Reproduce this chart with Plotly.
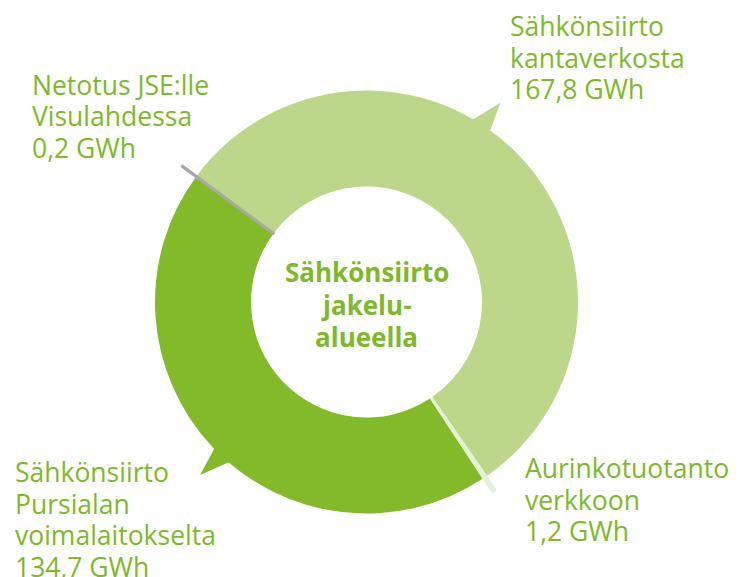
import math
import plotly.graph_objects as go

# ---- data ----
labels = ["Sähkönsiirto kantaverkosta", "Aurinkotuotanto verkkoon",
          "Sähkönsiirto Pursialan voimalaitokselta", "Netotus JSE:lle Visulahdessa"]
values = [167.8, 1.2, 134.7, 0.2]
label_lines = [
    ["Sähkönsiirto", "kantaverkosta", "167,8 GWh"],
    ["Aurinkotuotanto", "verkkoon", "1,2 GWh"],
    ["Sähkönsiirto", "Pursialan", "voimalaitokselta", "134,7 GWh"],
    ["Netotus JSE:lle", "Visulahdessa", "0,2 GWh"],
]
center_lines = ["Sähkönsiirto", "jakelu-", "alueella"]

# ---- styles ----
W, H = 744, 577
colors = ["#BCD68A", "#E6F0D5", "#83BA2A", "#A8A8A8"]
ext_colors = ["rgba(0,0,0,0)", "#E6F0D5", "rgba(0,0,0,0)", "#A8A8A8"]
text_color = "#7DB928"
font_family = "Open Sans"

cx, cy = 366.5, 302.0      # pixel centre
R_out, R_in, R_ext = 211.5, 115.5, 229.0


def dom(r):
    return dict(x=[(cx - r) / W, (cx + r) / W], y=[1 - (cy + r) / H, 1 - (cy - r) / H])


def P(x, y):
    return x / W, 1 - y / H


fig = go.Figure()
fig.add_trace(go.Pie(
    labels=labels, values=values, sort=False, direction="clockwise", rotation=306.5,
    hole=R_in / R_out, domain=dom(R_out), textinfo="none", showlegend=False,
    marker=dict(colors=colors, line=dict(width=0)), hoverinfo="label+value",
))
fig.add_trace(go.Pie(
    labels=labels, values=values, sort=False, direction="clockwise", rotation=306.5,
    hole=R_in / R_ext, domain=dom(R_ext), textinfo="none", showlegend=False,
    marker=dict(colors=ext_colors,
                line=dict(width=[0, 0, 0, 2.5], color=ext_colors)),
    hoverinfo="skip",
))


# callout pointers (decorative triangles)
def tri(a1, a2, at, rt, color):
    pts = []
    for a, r in [(a1, R_out - 4), (at, rt), (a2, R_out - 4)]:
        t = math.radians(a)
        pts.append(P(cx + r * math.sin(t), cy - r * math.cos(t)))
    path = "M {} {} L {} {} L {} {} Z".format(*[v for p in pts for v in p])
    return dict(type="path", path=path, xref="paper", yref="paper",
                fillcolor=color, line=dict(width=0), layer="below")


shapes = [tri(29.7, 36.1, 33.9, 240, colors[0]),
          tri(220.2, 226.4, 223.9, 240, colors[2])]

fs = 26.5
lh = 31.5
ann = []
pos = [(508, 26), (523, 468), (13, 472), (30, 85)]
for (x, y0), lines in zip(pos, label_lines):
    for i, t in enumerate(lines):
        px, py = P(x, y0 + i * lh)
        ann.append(dict(x=px, y=py, xref="paper", yref="paper", text=t, showarrow=False,
                        xanchor="left", yanchor="middle", align="left",
                        font=dict(family=font_family, size=fs, color=text_color)))
for i, t in enumerate(center_lines):
    px, py = P(cx, 272 + i * 32.5)
    ann.append(dict(x=px, y=py, xref="paper", yref="paper", text="<b>" + t + "</b>",
                    showarrow=False, xanchor="center", yanchor="middle",
                    font=dict(family=font_family, size=26, color=text_color)))

fig.update_layout(width=W, height=H, margin=dict(l=0, r=0, t=0, b=0),
                  paper_bgcolor="white", plot_bgcolor="white",
                  shapes=shapes, annotations=ann, showlegend=False)
fig.write_html("out.html", config={"displayModeBar": False},
               post_script="document.body.style.margin='0';")
